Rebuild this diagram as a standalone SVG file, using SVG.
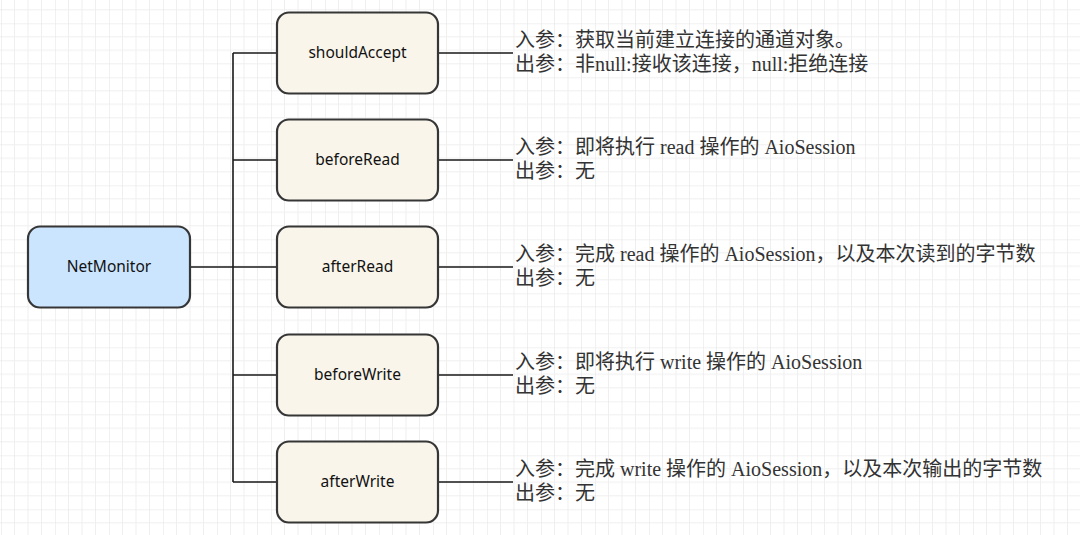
<svg xmlns="http://www.w3.org/2000/svg" width="1080" height="535" viewBox="0 0 1080 535">
<defs>
<pattern id="grid" x="1" y="23.3" width="54" height="54" patternUnits="userSpaceOnUse">
<path d="M13.5 0V54M27 0V54M40.5 0V54M0 13.5H54M0 27H54M0 40.5H54" stroke="#efefef" stroke-width="1" fill="none"/>
<path d="M0 0V54M0 0H54" stroke="#e3e3e3" stroke-width="1" fill="none"/>
</pattern>
<style>
.node{stroke:#363636;stroke-width:2.2}
.child{fill:#f9f5eb}
.root{fill:#cce5ff}
.lbl{font-family:"Noto Sans","DejaVu Sans",sans-serif;font-size:15.5px;fill:#111;text-anchor:middle}
.desc{font-family:"Liberation Serif","Noto Sans CJK SC",serif;font-size:20px;fill:#333}
.conn{stroke:#1a1a1a;stroke-width:1.6;fill:none}
</style>
</defs>
<rect width="1080" height="535" fill="#ffffff"/>
<rect width="1080" height="535" fill="url(#grid)"/>

<g id="connectors">
<path class="conn" d="M191 267H233M233 53V482M233 53H277M233 160H277M233 267H277M233 375H277M233 482H277"/>
<path class="conn" d="M438 53H513M438 160H513M438 267H513M438 375H513M438 482H513"/>
</g>

<g id="NetMonitor">
<rect class="node root" x="28" y="226.5" width="162" height="81" rx="12"/>
<text class="lbl" x="109" y="272">NetMonitor</text>
</g>

<g id="shouldAccept">
<rect class="node child" x="277" y="12.5" width="161" height="81" rx="12"/>
<text class="lbl" x="357.5" y="58">shouldAccept</text>
<text class="desc" x="515" y="47">入参：获取当前建立连接的通道对象。</text>
<text class="desc" x="515" y="71">出参：非null:接收该连接，null:拒绝连接</text>
</g>

<g id="beforeRead">
<rect class="node child" x="277" y="119.5" width="161" height="81" rx="12"/>
<text class="lbl" x="357.5" y="165">beforeRead</text>
<text class="desc" x="515" y="154">入参：即将执行 read 操作的 AioSession</text>
<text class="desc" x="515" y="178">出参：无</text>
</g>

<g id="afterRead">
<rect class="node child" x="277" y="226.5" width="161" height="81" rx="12"/>
<text class="lbl" x="357.5" y="272">afterRead</text>
<text class="desc" x="515" y="261">入参：完成 read 操作的 AioSession，以及本次读到的字节数</text>
<text class="desc" x="515" y="285">出参：无</text>
</g>

<g id="beforeWrite">
<rect class="node child" x="277" y="334.5" width="161" height="81" rx="12"/>
<text class="lbl" x="357.5" y="380">beforeWrite</text>
<text class="desc" x="515" y="369">入参：即将执行 write 操作的 AioSession</text>
<text class="desc" x="515" y="393">出参：无</text>
</g>

<g id="afterWrite">
<rect class="node child" x="277" y="441.5" width="161" height="81" rx="12"/>
<text class="lbl" x="357.5" y="487">afterWrite</text>
<text class="desc" x="515" y="476">入参：完成 write 操作的 AioSession，以及本次输出的字节数</text>
<text class="desc" x="515" y="500">出参：无</text>
</g>
</svg>
